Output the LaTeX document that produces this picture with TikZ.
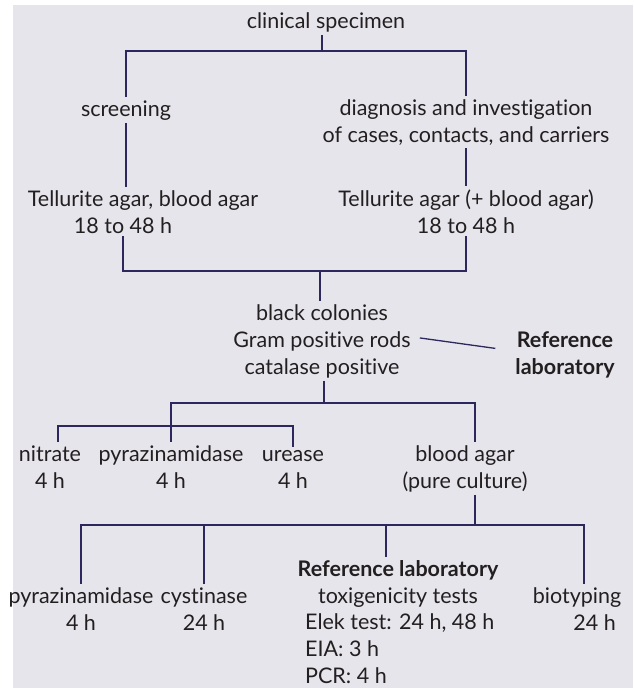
\documentclass[tikz,border=0pt]{standalone}
\usepackage{fontspec}
\setmainfont{Lato}[Ligatures=NoCommon]
\definecolor{panel}{RGB}{230,229,236}
\definecolor{ink}{RGB}{35,31,32}
\definecolor{wire}{RGB}{44,40,94}
\begin{document}
\begin{tikzpicture}[x=1pt,y=-1pt,
  every node/.style={font=\fontsize{21.5}{27}\selectfont,text=ink,inner xsep=2pt,inner ysep=3pt},
  lbl/.style={anchor=base,align=center},
  link/.style={draw=wire,line width=1.3pt}]
  \fill[white] (0,0) rectangle (633,688);
  \fill[panel] (13,5) rectangle (633,688);
  \useasboundingbox (0,0) rectangle (633,688);
  \node[lbl] (spec) at (326,28) {clinical specimen};
  \node[lbl] (screen) at (126,116) {screening};
  \node[lbl] (diag) at (466,142) {diagnosis and investigation\\of cases, contacts, and carriers};
  \node[lbl] (tellA) at (143,206) {Tellurite agar, blood agar};
  \node[lbl] (tellAh) at (123,233) {18 to 48 h};
  \node[lbl] (tellB) at (466,233) {Tellurite agar (+ blood agar)\\18 to 48 h};
  \node[lbl] (black) at (322,374) {black colonies\\Gram positive rods\\catalase positive};
  \node[lbl,font=\fontsize{21.5}{27}\selectfont\bfseries] (refA) at (565,374) {Reference\\laboratory};
  \node[lbl] (nitrate) at (50,488) {nitrate\\4 h};
  \node[lbl] (pyrA) at (171,488) {pyrazinamidase\\4 h};
  \node[lbl] (urease) at (293,488) {urease\\4 h};
  \node[lbl] (blood) at (465,488) {blood agar\\(pure culture)};
  \node[lbl] (pyrB) at (81,630) {pyrazinamidase\\4 h};
  \node[lbl] (cyst) at (204,630) {cystinase\\24 h};
  \node[lbl] (refB) at (398,603) {\textbf{Reference laboratory}\\toxigenicity tests};
  \node[lbl,anchor=base west,align=left] (tests) at (303,683) {Elek test: 24 h, 48 h\\EIA: 3 h\\PCR: 4 h};
  \node[lbl] (bioty) at (577,603) {biotyping};
  \node[lbl,anchor=base east] (biotyh) at (618,630) {24 h};
  \coordinate (top) at (322,51);
  \coordinate (mid) at (320,271);
  \coordinate (split) at (324,403);
  \coordinate (tri) at (172,426);
  \coordinate (low) at (475,525);
  \coordinate (nitdrop) at ([xshift=8pt]nitrate.north);
  \coordinate (refdrop) at ([xshift=-12pt]refB.north);
  \coordinate (biodrop) at ([xshift=7pt]bioty.north);
  \draw[link] (top |- spec.south) -- (top);
  \draw[link] (screen.north) |- (top) -| (diag.north);
  \draw[link] (screen.south) -- (screen.south |- tellA.north);
  \draw[link] (diag.south) -- (tellB.north);
  \draw[link] (tellAh.south) |- (mid) -| (tellB.south);
  \draw[link] (mid) -- (mid |- black.north);
  \draw[link] ([xshift=7pt,yshift=3pt]black.east) -- ([xshift=-18pt,yshift=6pt]refA.west);
  \draw[link] (split |- black.south) -- (split);
  \draw[link] (pyrA.north) |- (split) -| (low |- blood.north);
  \draw[link] (nitdrop) |- (tri) -| (urease.north);
  \draw[link] (low |- blood.south) -- (low);
  \draw[link] (pyrB.north) |- (low) -| (biodrop);
  \draw[link] (cyst.north) -- (cyst.north |- low);
  \draw[link] (refdrop) -- (refdrop |- low);
\end{tikzpicture}
\end{document}
